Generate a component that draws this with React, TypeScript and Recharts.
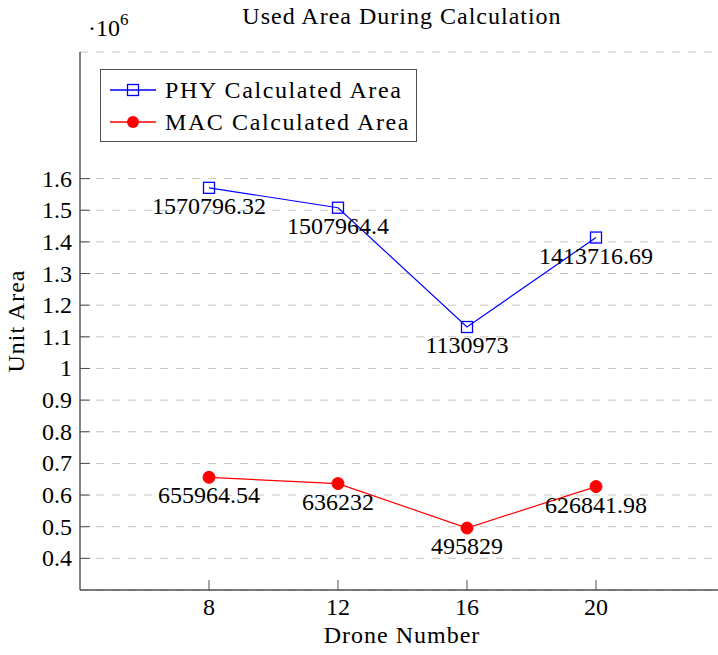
import React from 'react';
import {
  LineChart, Line, XAxis, YAxis, CartesianGrid, Legend, LabelList
} from 'recharts';

const drones = [8, 12, 16, 20];
const phyArea = [1570796.32, 1507964.4, 1130973, 1413716.69];
const macArea = [655964.54, 636232, 495829, 626841.98];
const yTicks = [400000, 500000, 600000, 700000, 800000, 900000, 1000000, 1100000, 1200000, 1300000, 1400000, 1500000, 1600000];

const data = drones.map((d, i) => ({ drones: d, phy: phyArea[i], mac: macArea[i] }));

const FONT = "'Liberation Serif', 'DejaVu Serif', serif";
const AXIS = '#505050';
const BLUE = '#0000ff';
const RED = '#ff0000';

// plot frame in chart coords
const TOP = 52;
const BOTTOM = 590;
const LEFT = 80;
const RIGHT = 725;
const TICK = 10;

const fmtTick = (v: number) => parseFloat((v / 1e6).toFixed(1)).toString();

const LeftTick = (props: any) => {
  const { y, payload } = props;
  return (
    <g>
      <line x1={LEFT} x2={LEFT + TICK} y1={y} y2={y} stroke={AXIS} strokeWidth={1} />
      <text x={LEFT - 8} y={y + 8} textAnchor="end" style={{ fontFamily: FONT }} fontSize={24} fill="#000">
        {fmtTick(payload.value)}
      </text>
    </g>
  );
};

const RightTick = (props: any) => {
  const { y } = props;
  return <line x1={RIGHT - TICK} x2={RIGHT} y1={y} y2={y} stroke={AXIS} strokeWidth={1} />;
};

const BottomTick = (props: any) => {
  const { x, payload } = props;
  return (
    <g>
      <line x1={x} x2={x} y1={BOTTOM} y2={BOTTOM - TICK} stroke={AXIS} strokeWidth={1} />
      <text x={x} y={BOTTOM + 25} textAnchor="middle" style={{ fontFamily: FONT }} fontSize={24} fill="#000">
        {payload.value}
      </text>
    </g>
  );
};

const TopTick = (props: any) => {
  const { x } = props;
  return <line x1={x} x2={x} y1={TOP} y2={TOP + TICK} stroke={AXIS} strokeWidth={1} />;
};

const SquareDot = (props: any) => {
  const { cx, cy, index } = props;
  return <rect key={`sq-${index}`} x={cx - 5.5} y={cy - 5.5} width={11} height={11} fill="none" stroke={BLUE} strokeWidth={1.3} />;
};

const CircleDot = (props: any) => {
  const { cx, cy, index } = props;
  return <circle key={`ci-${index}`} cx={cx} cy={cy} r={6} fill={RED} stroke={RED} strokeWidth={1} />;
};

const PointLabel = (props: any) => {
  const { x, y, value } = props;
  return (
    <text x={x} y={y + 26} textAnchor="middle" style={{ fontFamily: FONT }} fontSize={24} fill="#000">
      {String(value)}
    </text>
  );
};

const legendItems = [
  { name: 'PHY Calculated Area', color: BLUE, marker: 'square' },
  { name: 'MAC Calculated Area', color: RED, marker: 'circle' },
];

const LegendBox = () => (
  <div
    style={{
      width: 317, height: 73, boxSizing: 'border-box', border: `1.3px solid ${AXIS}`,
      background: '#fff', position: 'relative', fontFamily: FONT, fontSize: 24, letterSpacing: 1.6, color: '#000'
    }}
  >
    {legendItems.map((item, i) => (
      <div key={item.name} style={{ position: 'absolute', left: 8, top: 6 + i * 32, height: 28, display: 'flex', alignItems: 'center', whiteSpace: 'nowrap' }}>
        <svg width={48} height={20} style={{ marginRight: 8 }}>
          <line x1={1} x2={47} y1={10} y2={10} stroke={item.color} strokeWidth={1.3} />
          {item.marker === 'square'
            ? <rect x={18.5} y={4.5} width={11} height={11} fill="none" stroke={item.color} strokeWidth={1.3} />
            : <circle cx={24} cy={10} r={6} fill={item.color} />}
        </svg>
        <span>{item.name}</span>
      </div>
    ))}
  </div>
);

const textStyle = { fontFamily: FONT, letterSpacing: 1 };

const App = () => {
  return (
    <div style={{ position: 'absolute', left: 0, top: 0, width: 718, height: 655, overflow: 'hidden', background: '#fff' }}>
      <LineChart width={740} height={655} data={data} margin={{ top: TOP, right: 0, bottom: 0, left: 0 }}>
        <CartesianGrid horizontal vertical={false} stroke="#c4c4c4" strokeDasharray="8 8" />
        <XAxis
          dataKey="drones" type="number" domain={[4, 24]} ticks={drones} height={65}
          axisLine={{ stroke: AXIS, strokeWidth: 1.4 }} tickLine={false} tickSize={0}
          tick={<BottomTick />} interval={0}
        />
        <XAxis
          xAxisId="top" orientation="top" dataKey="drones" type="number" domain={[4, 24]} ticks={drones}
          height={0} axisLine={{ stroke: AXIS, strokeWidth: 1.4 }} tickLine={false} tickSize={0}
          tick={<TopTick />} interval={0}
        />
        <YAxis
          type="number" domain={[300000, 2000000]} ticks={yTicks} width={LEFT}
          axisLine={{ stroke: AXIS, strokeWidth: 1.4 }} tickLine={false} tickSize={0}
          tick={<LeftTick />} interval={0}
        />
        <YAxis
          yAxisId="right" orientation="right" type="number" domain={[300000, 2000000]} ticks={yTicks} width={15}
          axisLine={{ stroke: AXIS, strokeWidth: 1.4 }} tickLine={false} tickSize={0}
          tick={<RightTick />} interval={0}
        />
        <Legend
          layout="vertical" verticalAlign="middle" align="center"
          wrapperStyle={{ left: 100, top: 69, width: 317, height: 73 }}
          content={() => <LegendBox />}
        />
        <Line
          dataKey="phy" stroke={BLUE} strokeWidth={1.2} dot={SquareDot}
          isAnimationActive={false}
        >
          <LabelList dataKey="phy" content={PointLabel} />
        </Line>
        <Line
          dataKey="mac" stroke={RED} strokeWidth={1.2} dot={CircleDot}
          isAnimationActive={false}
        >
          <LabelList dataKey="mac" content={PointLabel} />
        </Line>
      </LineChart>
      <svg width={718} height={655} style={{ position: 'absolute', left: 0, top: 0, pointerEvents: 'none' }}>
        <text x={402} y={24} textAnchor="middle" style={textStyle} fontSize={24} fill="#000">
          Used Area During Calculation
        </text>
        <text x={88} y={36} style={{ fontFamily: FONT }} fontSize={24} fill="#000">
          ·10<tspan dy={-11} fontSize={17}>6</tspan>
        </text>
        <text x={402} y={643} textAnchor="middle" style={textStyle} fontSize={24} fill="#000">
          Drone Number
        </text>
        <text x={0} y={0} transform="translate(24,321) rotate(-90)" textAnchor="middle" style={textStyle} fontSize={24} fill="#000">
          Unit Area
        </text>
      </svg>
    </div>
  );
};

export default App;
